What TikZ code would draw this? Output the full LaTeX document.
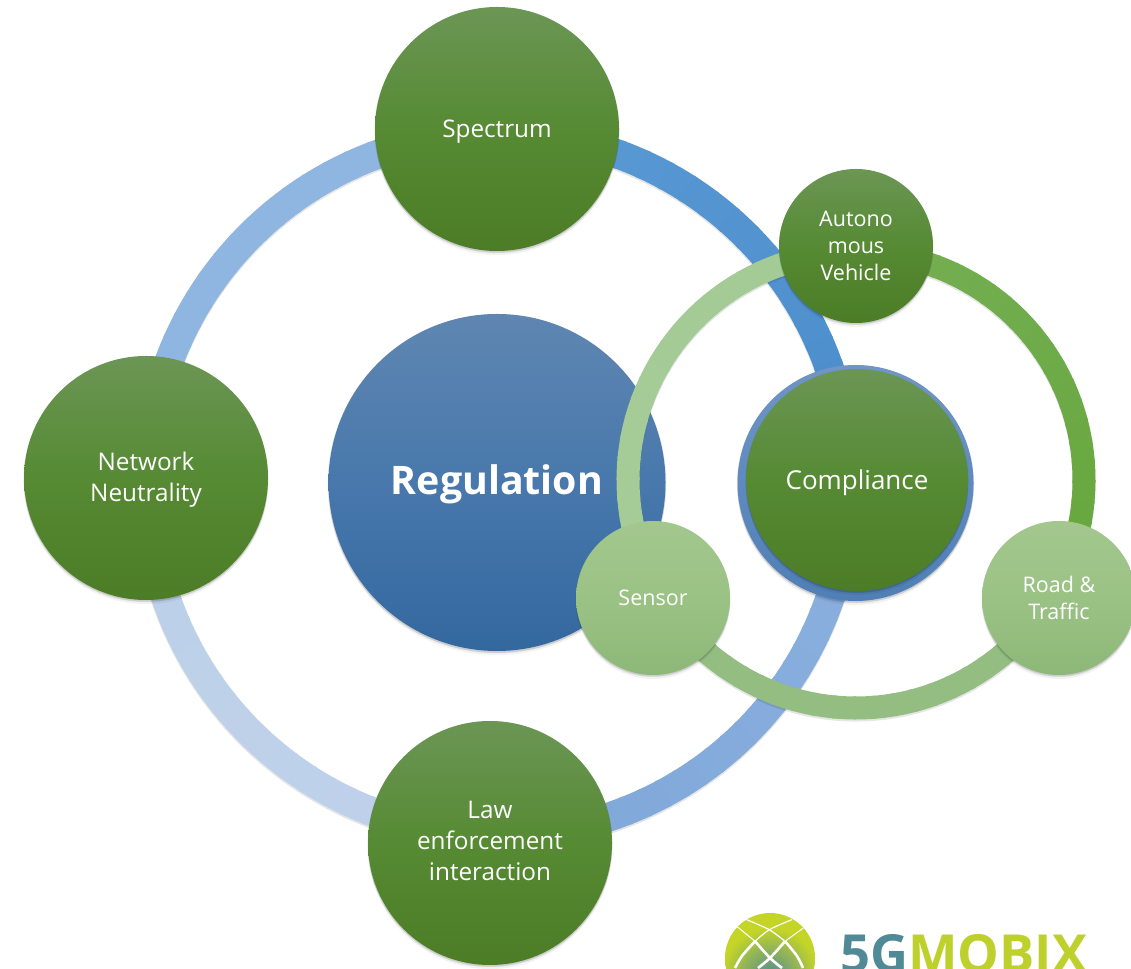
\documentclass[tikz,border=0pt]{standalone}
\usepackage{fontspec}
\setmainfont{Open Sans}
\usetikzlibrary{shadows}
\definecolor{gTop}{HTML}{6B9655}
\definecolor{gMid}{HTML}{568A33}
\definecolor{gBot}{HTML}{4C7C26}
\definecolor{lTop}{HTML}{A3C78E}
\definecolor{lMid}{HTML}{9BC285}
\definecolor{lBot}{HTML}{8DB878}
\definecolor{bTop}{HTML}{5F86B1}
\definecolor{bMid}{HTML}{4878AC}
\definecolor{bBot}{HTML}{33689F}
\definecolor{cTop}{HTML}{7095C6}
\definecolor{cMid}{HTML}{5F8ABF}
\definecolor{cBot}{HTML}{4F7FB5}
\definecolor{teal5g}{HTML}{4F8A96}
\definecolor{lime5g}{HTML}{BDD02C}
\definecolor{rA}{HTML}{5B9BD5}
\definecolor{rB}{HTML}{4A8BCB}
\definecolor{rC}{HTML}{8AB0DF}
\definecolor{rD}{HTML}{7FA7D8}
\definecolor{rE}{HTML}{C0D2EA}
\definecolor{rF}{HTML}{BCD0E9}
\definecolor{rG}{HTML}{8FB5E1}
\definecolor{sA}{HTML}{74AE52}
\definecolor{sB}{HTML}{65A63A}
\definecolor{sC}{HTML}{94BD82}
\definecolor{sD}{HTML}{A6CC98}
\definecolor{sE}{HTML}{A3CB95}
\newcommand{\lift}[2]{\raisebox{#1}[\height][\depth]{#2}}
\tikzset{
  x=1pt,y=1pt,
  disc/.style={circle,inner sep=0pt,align=center,text=white,
    general shadow={fill=black,opacity=.05,shadow yshift=-4pt,shadow scale=1.00},
    general shadow={fill=black,opacity=.08,shadow yshift=-2pt,shadow scale=1.00},
    general shadow={fill=black,opacity=.08,shadow yshift=-1pt,shadow scale=1.005},
    top color=gTop,bottom color=gBot,middle color=gMid},
  big/.style={disc,minimum size=244pt,font=\fontsize{24.3}{31}\selectfont},
  small/.style={disc,minimum size=154pt,font=\fontsize{21.5}{27}\selectfont},
  pale/.style={top color=lTop,bottom color=lBot,middle color=lMid},
}
% cx cy r width a0 a1 colour0 colour1
\newcommand{\ringarc}[8]{%
  \draw[line width=#4,black,opacity=.10] (#1,#2-2) ++(#5:#3) arc[start angle=#5,end angle=#6,radius=#3];
  \foreach \i in {0,...,23}{%
    \pgfmathsetmacro{\aS}{#5+(#6-#5)*\i/24}%
    \pgfmathsetmacro{\aE}{#5+(#6-#5)*(\i+1.15)/24}%
    \pgfmathsetmacro{\pc}{100-100*\i/23}%
    \draw[line width=#4,color=#7!\pc!#8] (#1,#2) ++(\aS:#3) arc[start angle=\aS,end angle=\aE,radius=#3];
  }}
\begin{document}
\begin{tikzpicture}
\useasboundingbox (0,0) rectangle (1131,968);
\clip (0,0) rectangle (1131,968);
\fill[white] (0,0) rectangle (1131,968);
% big ring
\ringarc{498}{484}{351}{29}{95}{-5}{rA}{rB}
\ringarc{498}{484}{351}{29}{-5}{-85}{rC}{rD}
\ringarc{498}{484}{351}{29}{-85}{-175}{rE}{rF}
\ringarc{498}{484}{351}{29}{175}{85}{rG}{rG}
% nodes on big ring
\node[big] (spectrum) at (497,839) {\lift{-3pt}{Spectrum}};
\node[big] (network) at (146,490) {\lift{-2pt}{Network}\\\lift{-2pt}{Neutrality}};
\node[big] (law) at (490,125) {\lift{2pt}{Law}\\\lift{2pt}{enforcement}\\\lift{2pt}{interaction}};
\node[disc,minimum size=337pt,top color=bTop,bottom color=bBot,middle color=bMid,font=\fontsize{39.3}{44}\selectfont\bfseries] (reg) at (497,485.5) {\lift{-2pt}{Regulation}};
\node[disc,minimum size=236pt,top color=cTop,bottom color=cBot,middle color=cMid] (back) at (855.5,485) {};
\node[disc,minimum size=222pt,font=\fontsize{26}{31}\selectfont] (compliance) at (857,488) {\lift{-3pt}{Compliance}};
% green ring
\ringarc{856}{488}{228}{23}{80}{-40}{sA}{sB}
\ringarc{856}{488}{228}{23}{-30}{-150}{sC}{sC}
\ringarc{856}{488}{228}{23}{210}{90}{sD}{sE}
\node[small] (auto) at (856,722) {Autono\\mous\\Vehicle};
\node[small,pale] (sensor) at (653,370) {Sensor};
\node[small,pale] (road) at (1059,370) {Road \&\\Traffic};
% logo
\begin{scope}
\clip (770,10) circle (45);
\fill[lime5g!90!yellow] (720,-40) rectangle (820,60);
\shade[inner color=teal5g,outer color=lime5g!90!yellow] (770,-8) circle (48);
\draw[white,line width=1.2pt] plot[smooth] coordinates {(745,49) (769.3,38.3) (785,26.7)};
\draw[white,line width=1.2pt] plot[smooth] coordinates {(791.7,48.3) (769.3,38.3) (755,26.7)};
\draw[white,line width=1pt] (736.7,41.7) -- (755,26.7);
\draw[white,line width=1pt] (803.3,40) -- (785,26.7);
\draw[white,line width=2.6pt] plot[smooth] coordinates {(755,26.7) (742,12) (735,0)};
\draw[white,line width=2.6pt] plot[smooth] coordinates {(785,26.7) (797,12) (803,0)};
\draw[white,line width=2.6pt] plot[smooth] coordinates {(755,26.7) (770,10) (782,0)};
\draw[white,line width=2.6pt] plot[smooth] coordinates {(785,26.7) (770,10) (758,0)};
\end{scope}
\node[inner sep=0pt,anchor=base west,font=\fontsize{52.5}{58}\selectfont\bfseries] (logo) at (840,-4.5) {\textcolor{teal5g}{5G}\textcolor{lime5g}{MOBIX}};
\end{tikzpicture}
\end{document}
